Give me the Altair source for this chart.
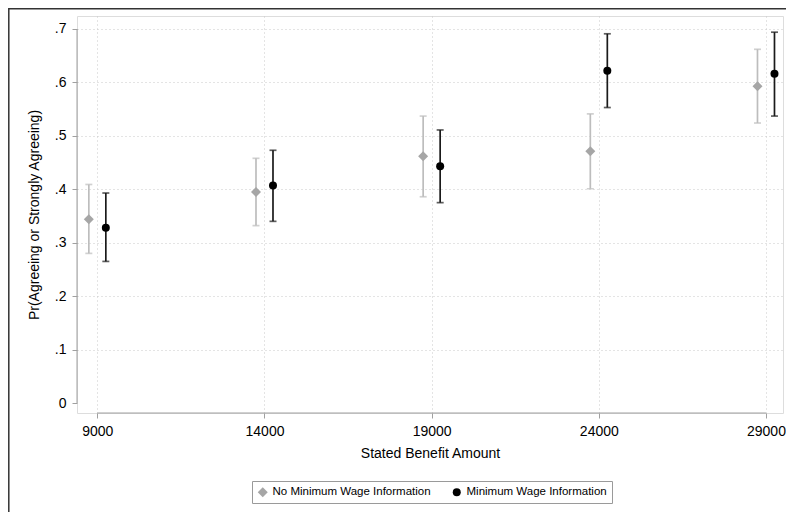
import altair as alt
import pandas as pd

benefit = [9000, 14000, 19000, 24000, 29000]
series_names = ["No Minimum Wage Information", "Minimum Wage Information"]

no_info_mean = [0.344, 0.395, 0.462, 0.471, 0.593]
no_info_lo = [0.280, 0.332, 0.386, 0.401, 0.524]
no_info_hi = [0.409, 0.458, 0.537, 0.541, 0.662]

info_mean = [0.328, 0.407, 0.443, 0.622, 0.616]
info_lo = [0.265, 0.340, 0.375, 0.553, 0.537]
info_hi = [0.393, 0.473, 0.511, 0.691, 0.694]

x_ticks = [9000, 14000, 19000, 24000, 29000]
y_ticks = [0, 0.1, 0.2, 0.3, 0.4, 0.5, 0.6, 0.7]

rows = []
for i, b in enumerate(benefit):
    rows.append({"benefit": b, "series": series_names[0], "mean": no_info_mean[i],
                 "lo": no_info_lo[i], "hi": no_info_hi[i]})
    rows.append({"benefit": b, "series": series_names[1], "mean": info_mean[i],
                 "lo": info_lo[i], "hi": info_hi[i]})
df = pd.DataFrame(rows)
df_no = df[df.series == series_names[0]]
df_yes = df[df.series == series_names[1]]

FONT = "Liberation Sans"
W, H = 706, 397

xscale = alt.Scale(domain=[8392, 29509], nice=False, zero=False)
yscale = alt.Scale(domain=[-0.0187, 0.7243], nice=False, zero=False)

xaxis = alt.Axis(values=x_ticks, format="d", title="Stated Benefit Amount",
                 domain=False, tickColor="#a0a0a0", tickSize=5, labelPadding=6,
                 labelFontSize=14, titleFontSize=14, titleFontWeight="normal",
                 titlePadding=8, grid=True, gridColor="#c8c8c8", gridDash=[1, 3],
                 labelFont=FONT, titleFont=FONT, labelColor="black", titleColor="black")
yaxis = alt.Axis(values=y_ticks, title="Pr(Agreeing or Strongly Agreeing)",
                 labelExpr="datum.value == 0 ? '0' : replace(format(datum.value, '.1f'), '0.', '.')",
                 domain=False, tickColor="#a0a0a0", tickSize=5, labelPadding=6,
                 labelFontSize=14, titleFontSize=14, titleFontWeight="normal",
                 titlePadding=13, grid=True, gridColor="#c8c8c8", gridDash=[1, 3],
                 gridOpacity={"condition": {"test": "datum.value < 0.01", "value": 0}, "value": 1},
                 labelFont=FONT, titleFont=FONT, labelColor="black", titleColor="black")

legend = alt.Legend(title=None, orient="none", legendX=175, legendY=465,
                    direction="horizontal", strokeColor="#9a9a9a", padding=5,
                    labelFontSize=11.5, labelFont=FONT, labelColor="black",
                    columnPadding=20, gridAlign="all",
                    symbolStrokeWidth=0, labelOffset=4)

color_scale = alt.Scale(domain=series_names, range=["#a6a6a6", "#000000"])
shape_scale = alt.Scale(domain=series_names, range=["diamond", "circle"])
size_scale = alt.Scale(domain=series_names, range=[100, 64])


def layers(d, bar_color, offset):
    base = alt.Chart(d)
    bars = base.mark_rule(color=bar_color, strokeWidth=1.7, xOffset=offset).encode(
        x=alt.X("benefit:Q", scale=xscale, axis=xaxis),
        y=alt.Y("lo:Q", scale=yscale, axis=yaxis),
        y2="hi:Q",
    )
    cap_lo = base.mark_tick(color=bar_color, thickness=1.7, size=7, orient="horizontal",
                            xOffset=offset).encode(
        x=alt.X("benefit:Q", scale=xscale), y=alt.Y("lo:Q", scale=yscale))
    cap_hi = base.mark_tick(color=bar_color, thickness=1.7, size=7, orient="horizontal",
                            xOffset=offset).encode(
        x=alt.X("benefit:Q", scale=xscale), y=alt.Y("hi:Q", scale=yscale))
    pts = base.mark_point(filled=True, opacity=1, xOffset=offset).encode(
        x=alt.X("benefit:Q", scale=xscale),
        y=alt.Y("mean:Q", scale=yscale),
        color=alt.Color("series:N", scale=color_scale, legend=legend),
        shape=alt.Shape("series:N", scale=shape_scale, legend=legend),
        size=alt.Size("series:N", scale=size_scale, legend=legend),
    )
    return [bars, cap_lo, cap_hi, pts]


xline = alt.Chart(pd.DataFrame({"a": [x_ticks[0]], "b": [x_ticks[-1]]})).mark_rule(
    color="#a0a0a0", strokeWidth=1).encode(
    x=alt.X("a:Q", scale=xscale), x2="b:Q", y=alt.value(H))
yline = alt.Chart(pd.DataFrame({"a": [y_ticks[0]], "b": [y_ticks[-1]]})).mark_rule(
    color="#a0a0a0", strokeWidth=1).encode(
    y=alt.Y("a:Q", scale=yscale), y2="b:Q", x=alt.value(0))
frame = alt.Chart(pd.DataFrame({"a": [0]})).mark_rect(
    filled=False, stroke="#333333", strokeWidth=1.5).encode(
    x=alt.value(-68.2), x2=alt.value(900), y=alt.value(-7.2), y2=alt.value(900))

chart = alt.layer(
    frame, xline, yline,
    *layers(df_no, "#bdbdbd", -8.5),
    *layers(df_yes, "#1a1a1a", 8.5),
).properties(
    width=W, height=H,
    autosize=alt.AutoSizeParams(type="none"),
    padding={"left": 69, "top": 8, "right": 3, "bottom": 99},
).configure_view(stroke=None).configure(background="white")

chart.save("out.html", embed_options={"renderer": "svg", "actions": False})
